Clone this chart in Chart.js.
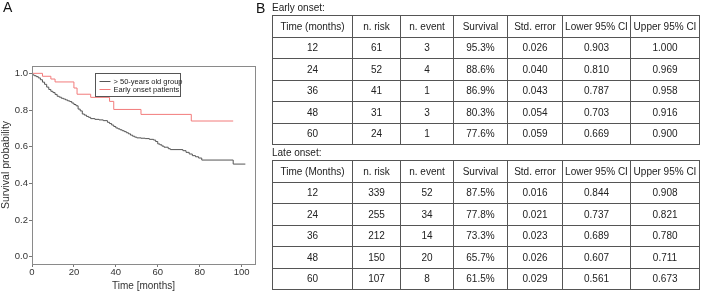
<!DOCTYPE html>
<html>
<head>
<meta charset="utf-8">
<script src="https://cdn.jsdelivr.net/npm/chart.js@4.4.1/dist/chart.umd.min.js"></script>
<style>
  body { margin: 0; background: #fff; font-family: "Liberation Sans", Arial, sans-serif; color: #222; }
  #wrap { position: relative; width: 701px; height: 293px; overflow: hidden; }
  #km { position: absolute; left: 0; top: 0; }
  .panel { position: absolute; font-size: 14px; color: #111; }
  .cap { position: absolute; font-size: 10px; color: #222; }
  table { position: absolute; border-collapse: collapse; table-layout: fixed; font-size: 10px; color: #222; }
  td { border: 1px solid #555; text-align: center; padding: 0; white-space: nowrap; }
  tr { height: 21.5px; }
</style>
</head>
<body>
<div id="wrap">
  <canvas id="km" width="262" height="293"></canvas>
  <div class="panel" style="left:3px; top:-1px;">A</div>
  <div class="panel" style="left:256px; top:0px;">B</div>
  <div class="cap" style="left:272px; top:2px;">Early onset:</div>
  <table id="early" style="left:272px; top:15px;"></table>
  <div class="cap" style="left:272px; top:147px;">Late onset:</div>
  <table id="late" style="left:272px; top:160px;"></table>
</div>
<script>
// Kaplan-Meier curves (time in months, survival probability)
const lateTimes = [0, 1, 2, 3, 4, 5, 6, 7, 8, 9, 10, 11, 12, 13, 14, 15, 16, 17, 18, 19, 20, 21, 22, 23, 24,
  25, 26, 27, 28, 30, 32, 34, 36, 37, 38, 39, 40, 41, 42, 43, 44, 45, 46, 47, 48, 49, 50, 52, 54, 56, 58, 59,
  60, 61, 62, 63, 65, 66, 72, 73.5, 75, 76.5, 78, 79.5, 81, 96, 101.8];
const lateSurv = [0.992, 0.987, 0.982, 0.975, 0.965, 0.952, 0.940, 0.925, 0.912, 0.902, 0.895, 0.885, 0.875,
  0.870, 0.864, 0.860, 0.855, 0.850, 0.846, 0.838, 0.830, 0.823, 0.805, 0.795, 0.778,
  0.772, 0.765, 0.760, 0.753, 0.749, 0.746, 0.742, 0.733, 0.726, 0.718, 0.710, 0.702, 0.697, 0.692, 0.687,
  0.682, 0.676, 0.670, 0.663, 0.657, 0.652, 0.648, 0.646, 0.644, 0.640, 0.636, 0.628,
  0.615, 0.610, 0.603, 0.597, 0.589, 0.584, 0.578, 0.569, 0.560, 0.551, 0.545, 0.538, 0.527, 0.505, 0.505];

const earlyTimes = [0, 5, 9, 11, 20, 21.5, 28, 37, 39, 52, 76, 96];
const earlySurv = [1.0, 0.984, 0.969, 0.953, 0.920, 0.886, 0.869, 0.847, 0.803, 0.776, 0.740, 0.740];

const seriesLabels = ['> 50-years old group', 'Early onset patients'];
const xTicks = [0, 20, 40, 60, 80, 100];
const yTicks = [0, 0.2, 0.4, 0.6, 0.8, 1.0];

// tables
const earlyHeader = ['Time (months)', 'n. risk', 'n. event', 'Survival', 'Std. error', 'Lower 95% CI', 'Upper 95% CI'];
const earlyTime = [12, 24, 36, 48, 60];
const earlyRisk = [61, 52, 41, 31, 24];
const earlyEvent = [3, 4, 1, 3, 1];
const earlyPct = ['95.3%', '88.6%', '86.9%', '80.3%', '77.6%'];
const earlyStdErr = ['0.026', '0.040', '0.043', '0.054', '0.059'];
const earlyLower = ['0.903', '0.810', '0.787', '0.703', '0.669'];
const earlyUpper = ['1.000', '0.969', '0.958', '0.916', '0.900'];

const lateHeader = ['Time (Months)', 'n. risk', 'n. event', 'Survival', 'Std. error', 'Lower 95% CI', 'Upper 95% CI'];
const lateTime = [12, 24, 36, 48, 60];
const lateRisk = [339, 255, 212, 150, 107];
const lateEvent = [52, 34, 14, 20, 8];
const latePct = ['87.5%', '77.8%', '73.3%', '65.7%', '61.5%'];
const lateStdErr = ['0.016', '0.021', '0.023', '0.026', '0.029'];
const lateLower = ['0.844', '0.737', '0.689', '0.607', '0.561'];
const lateUpper = ['0.908', '0.821', '0.780', '0.711', '0.673'];

const colWidths = [80, 48, 53, 54, 55, 68, 69];

function fillTable(id, header, cols) {
    const tbl = document.getElementById(id);
    let html = '<colgroup>' + colWidths.map(w => '<col style="width:' + w + 'px">').join('') + '</colgroup>';
    html += '<tr>' + header.map(h => '<td>' + h + '</td>').join('') + '</tr>';
    for (let r = 0; r < cols[0].length; r++) {
        html += '<tr>' + cols.map(c => '<td>' + c[r] + '</td>').join('') + '</tr>';
    }
    tbl.innerHTML = html;
    tbl.style.width = colWidths.reduce((a, b) => a + b, 0) + 'px';
}
fillTable('early', earlyHeader, [earlyTime, earlyRisk, earlyEvent, earlyPct, earlyStdErr, earlyLower, earlyUpper]);
fillTable('late', lateHeader, [lateTime, lateRisk, lateEvent, latePct, lateStdErr, lateLower, lateUpper]);

function toPoints(xs, ys) {
    return xs.map((x, i) => ({ x: x, y: ys[i] }));
}

// box around the plot area + legend in the top
const framePlugin = {
    id: 'frame',
    afterDraw(chart) {
        const { ctx, chartArea: a } = chart;
        ctx.save();
        ctx.strokeStyle = '#8a8a8a';
        ctx.lineWidth = 1;
        ctx.strokeRect(Math.round(a.left) + 0.5, Math.round(a.top) + 0.5,
            Math.round(a.right - a.left), Math.round(a.bottom - a.top));

        // legend box
        const bx = a.left + 63.5, by = a.top + 7.5, bw = 85, bh = 23;
        ctx.strokeStyle = '#555';
        ctx.strokeRect(bx, by, bw, bh);
        ctx.font = '7.5px "Liberation Sans", Arial, sans-serif';
        ctx.textBaseline = 'middle';
        chart.data.datasets.forEach((ds, i) => {
            const y = Math.round(by + 7.5 + i * 7.5) + 0.5;
            ctx.strokeStyle = ds.borderColor;
            ctx.beginPath();
            ctx.moveTo(bx + 4, y);
            ctx.lineTo(bx + 15, y);
            ctx.stroke();
            ctx.fillStyle = '#222';
            ctx.fillText(ds.label, bx + 18, y);
        });
        ctx.restore();
    }
};

const ctx = document.getElementById('km').getContext('2d');
const chart = new Chart(ctx, {
    type: 'line',
    data: {
        datasets: [{
            label: seriesLabels[0],
            data: toPoints(lateTimes, lateSurv),
            borderColor: '#555555',
            borderWidth: 1,
            pointRadius: 0,
            stepped: true
        }, {
            label: seriesLabels[1],
            data: toPoints(earlyTimes, earlySurv),
            borderColor: '#f27b7b',
            borderWidth: 1,
            pointRadius: 0,
            stepped: true
        }]
    },
    options: {
        responsive: false,
        animation: false,
        devicePixelRatio: 1,
        layout: { padding: { left: 0, right: 7, top: 66, bottom: 0 } },
        plugins: {
            legend: { display: false },
            tooltip: { enabled: false }
        },
        scales: {
            x: {
                type: 'linear',
                min: 0,
                max: 106.4,
                afterBuildTicks: s => { s.ticks = xTicks.map(v => ({ value: v })); },
                afterFit: s => { s.height = 29; },
                grid: { drawOnChartArea: false, tickLength: 3, color: '#777' },
                border: { display: true, color: '#8a8a8a' },
                ticks: {
                    padding: 0,
                    maxRotation: 0,
                    color: '#333',
                    font: { family: '"Liberation Sans", Arial, sans-serif', size: 9.5 }
                },
                title: {
                    display: true,
                    text: 'Time [months]',
                    color: '#333',
                    padding: { top: 0, bottom: 1 },
                    font: { family: '"Liberation Sans", Arial, sans-serif', size: 10 }
                }
            },
            y: {
                min: -0.04,
                max: 1.04,
                afterBuildTicks: s => { s.ticks = yTicks.map(v => ({ value: v })); },
                afterFit: s => { s.width = 32; },
                grid: { drawOnChartArea: false, tickLength: 3, color: '#777' },
                border: { display: true, color: '#8a8a8a' },
                ticks: {
                    padding: 1,
                    color: '#333',
                    font: { family: '"Liberation Sans", Arial, sans-serif', size: 9.5 },
                    callback: v => v.toFixed(1)
                },
                title: {
                    display: true,
                    text: 'Survival probability',
                    color: '#333',
                    padding: { top: 0, bottom: 0 },
                    font: { family: '"Liberation Sans", Arial, sans-serif', size: 10.5 }
                }
            }
        }
    },
    plugins: [framePlugin]
});
</script>
</body>
</html>
